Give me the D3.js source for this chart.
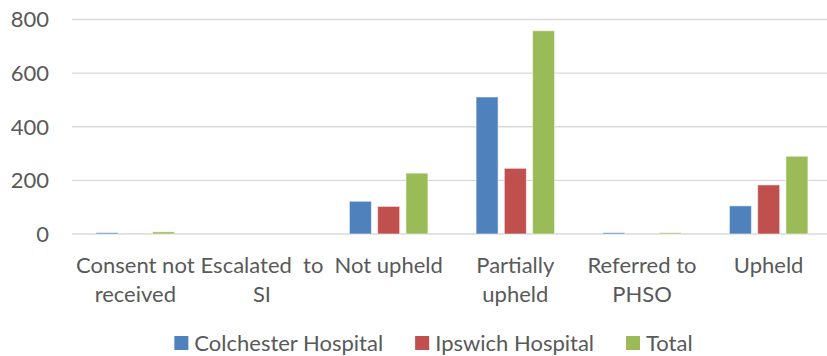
<!DOCTYPE html>
<html lang="en">
<head>
<meta charset="UTF-8">
<title>Complaint outcomes</title>
<script src="https://d3js.org/d3.v7.min.js"></script>
<style>
    body { margin: 0; background: #ffffff; }
    svg { display: block; font-family: Lato, 'Open Sans', sans-serif; }
    .tick-label, .legend-label { fill: #595959; font-size: 22px; white-space: pre; }
</style>
</head>
<body>
<svg id="chart" width="827" height="356"></svg>
<script>
    // categories and how the axis label wraps
    const categories = ["Consent not received", "Escalated to SI", "Not upheld", "Partially upheld", "Referred to PHSO", "Upheld"];
    const categoryLines = [["Consent not", "received"], ["Escalated  to", "SI"], ["Not upheld"], ["Partially", "upheld"], ["Referred to", "PHSO"], ["Upheld"]];

    const seriesNames = ["Colchester Hospital", "Ipswich Hospital", "Total"];
    const colchester = [5, 0, 122, 511, 5, 105];
    const ipswich = [1, 0, 103, 245, 0, 183];
    const total = [8, 0, 227, 758, 5, 290];
    const seriesColors = ["#4f81bd", "#c0504d", "#9bbb59"];

    const yTicks = [0, 200, 400, 600, 800];

    const allSeries = [colchester, ipswich, total];
    const rows = categories.map((c, i) => ({ cat: c, values: allSeries.map((s, j) => ({ key: seriesNames[j], value: s[i] })) }));

    const svg = d3.select("#chart");
    const plot = { left: 72, right: 832, top: 19.5, bottom: 234 };

    const y = d3.scaleLinear().domain([0, 800]).range([plot.bottom, plot.top]);
    const x0 = d3.scaleBand().domain(categories).range([plot.left, plot.right]).paddingInner(0.38).paddingOuter(0.19);
    const x1 = d3.scaleBand().domain(seriesNames).range([0, x0.bandwidth()]).paddingInner(0.22);
    const color = d3.scaleOrdinal().domain(seriesNames).range(seriesColors);

    // gridlines
    svg.append("g").selectAll("line").data(yTicks).join("line")
        .attr("x1", plot.left).attr("x2", plot.right)
        .attr("y1", d => y(d)).attr("y2", d => y(d))
        .attr("stroke", "#d9d9d9").attr("stroke-width", 1.3);

    // y labels
    svg.append("g").selectAll("text").data(yTicks).join("text")
        .attr("class", "tick-label")
        .attr("x", 49).attr("y", d => y(d))
        .attr("dy", "0.36em")
        .attr("text-anchor", "end")
        .text(d => d);

    // bars
    svg.append("g").selectAll("g").data(rows).join("g")
        .attr("transform", d => `translate(${x0(d.cat)},0)`)
        .selectAll("rect").data(d => d.values).join("rect")
        .attr("x", d => x1(d.key))
        .attr("width", x1.bandwidth())
        .attr("y", d => y(d.value))
        .attr("height", d => y(0) - y(d.value))
        .attr("fill", d => color(d.key))
        .attr("stroke", "rgba(255,255,255,0.55)")
        .attr("stroke-width", 1);

    // x labels
    const xl = svg.append("g").selectAll("text").data(categories).join("text")
        .attr("class", "tick-label")
        .attr("text-anchor", "middle")
        .attr("x", d => x0(d) + x0.bandwidth() / 2)
        .attr("y", 273);
    xl.selectAll("tspan").data((d, i) => categoryLines[i]).join("tspan")
        .attr("x", function () { return d3.select(this.parentNode).attr("x"); })
        .attr("dy", (d, i) => i === 0 ? 0 : 29)
        .text(d => d);

    // legend (kept just inside the bottom edge)
    const legend = svg.append("g");
    const items = legend.selectAll("g").data(seriesNames).join("g");
    items.append("rect").attr("width", 14).attr("height", 14).attr("y", 336).attr("fill", d => color(d));
    items.append("text").attr("class", "legend-label").attr("x", 20).attr("y", 351).text(d => d);
    let pos = 0;
    const offsets = [];
    items.each(function () {
        offsets.push(pos);
        pos += 20 + d3.select(this).select("text").node().getComputedTextLength() + 32;
    });
    const legendWidth = pos - 32;
    const start = 433.5 - legendWidth / 2;
    items.attr("transform", (d, i) => `translate(${start + offsets[i]},0)`);
</script>
</body>
</html>
